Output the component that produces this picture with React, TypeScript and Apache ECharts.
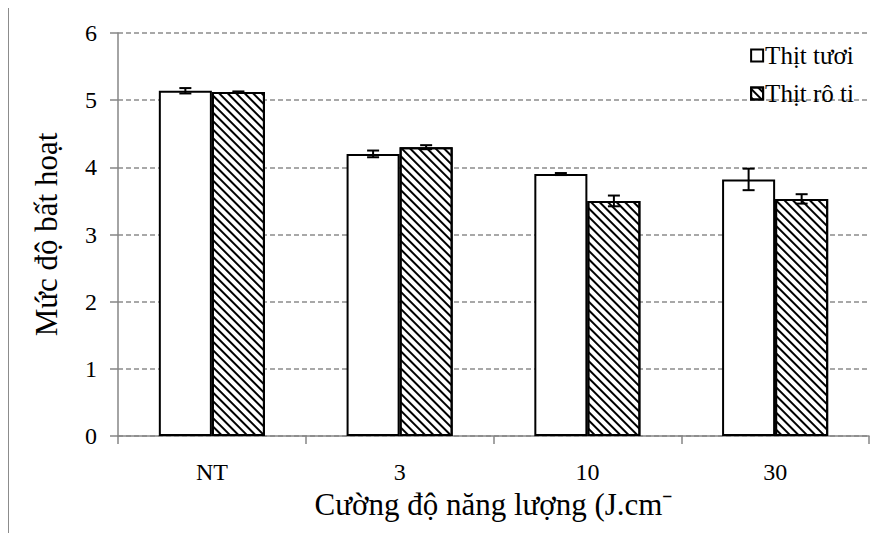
import React, { useEffect, useRef } from "react";
import * as echarts from "echarts";

const categories = ["NT", "3", "10", "30"];
const freshValues = [5.14, 4.2, 3.9, 3.82];
const freshErrors = [0.04, 0.05, 0.015, 0.16];
const roastValues = [5.12, 4.3, 3.5, 3.53];
const roastErrors = [0.01, 0.03, 0.08, 0.07];
const seriesNames = ["Thịt tươi", "Thịt rô ti"];
const yTicks = [0, 1, 2, 3, 4, 5, 6];

const FONT = "Liberation Serif";
const CAT_GAP = 0.435;

export default function App() {
  const ref = useRef<HTMLDivElement>(null);
  useEffect(() => {
    const chart = echarts.init(ref.current!, null, { renderer: "svg" });
    const errorSeries = (vals: number[], errs: number[], side: number) => ({
      type: "custom",
      silent: true,
      z: 10,
      data: vals.map((v, i) => [i, v, errs[i]]),
      renderItem: (params: any, api: any) => {
        const idx = api.value(0);
        const v = api.value(1);
        const e = api.value(2);
        const band = api.size([1, 0])[0];
        const bw = ((1 - CAT_GAP) * band) / 2;
        const c = api.coord([idx, v]);
        const x = c[0] + side * (bw / 2);
        const yTop = api.coord([idx, v + e])[1];
        const yBot = api.coord([idx, v - e])[1];
        const cap = 6;
        const style = { stroke: "#000", lineWidth: 2 };
        return {
          type: "group",
          children: [
            { type: "line", shape: { x1: x, y1: yTop, x2: x, y2: yBot }, style },
            { type: "line", shape: { x1: x - cap, y1: yTop, x2: x + cap, y2: yTop }, style },
            { type: "line", shape: { x1: x - cap, y1: yBot, x2: x + cap, y2: yBot }, style },
          ],
        };
      },
    });
    chart.setOption({
      animation: false,
      backgroundColor: "#fff",
      textStyle: { fontFamily: FONT },
      graphic: {
        elements: [
          {
            type: "rect",
            z: 100,
            shape: { x: 7, y: 5, width: 882, height: 2 },
            style: { fill: "#8c8c8c" },
          },
          {
            type: "rect",
            z: 100,
            shape: { x: 7, y: 5, width: 2, height: 536 },
            style: { fill: "#8c8c8c" },
          },
        ],
      },
      grid: { left: 118, right: 20, top: 33, bottom: 105, containLabel: false },
      legend: {
        orient: "vertical",
        right: 30,
        top: 38,
        itemWidth: 12,
        itemHeight: 12,
        itemGap: 13,
        icon: "rect",
        textStyle: { fontFamily: FONT, fontSize: 25, color: "#000", padding: [0, 0, 0, -3] },
        data: seriesNames,
      },
      xAxis: {
        type: "category",
        data: categories,
        name: "Cường độ năng lượng (J.cm⁻",
        nameLocation: "middle",
        nameGap: 50,
        nameTextStyle: { fontFamily: FONT, fontSize: 31, color: "#000" },
        axisLine: { lineStyle: { color: "#868686", width: 1.5 } },
        axisTick: { show: true, length: 8, lineStyle: { color: "#868686", width: 1.5 } },
        axisLabel: { fontFamily: FONT, fontSize: 24, color: "#000", margin: 24 },
      },
      yAxis: {
        type: "value",
        min: 0,
        max: 6,
        interval: 1,
        name: "Mức độ bất hoạt",
        nameLocation: "middle",
        nameGap: 56,
        nameTextStyle: { fontFamily: FONT, fontSize: 31, color: "#000" },
        axisLine: { show: true, lineStyle: { color: "#868686", width: 1.5 } },
        axisTick: { show: true, length: 8, lineStyle: { color: "#868686", width: 1.5 } },
        axisLabel: {
          fontFamily: FONT,
          fontSize: 24,
          color: "#000",
          margin: 21,
          formatter: (v: number) => (yTicks.includes(v) ? String(v) : ""),
        },
        splitLine: { show: true, lineStyle: { color: "#8c8c8c", type: [5, 3], width: 1.5 } },
      },
      series: [
        {
          name: seriesNames[0],
          type: "bar",
          data: freshValues,
          barGap: "0%",
          barCategoryGap: CAT_GAP * 100 + "%",
          itemStyle: { color: "#fff", borderColor: "#000", borderWidth: 2 },
        },
        {
          name: seriesNames[1],
          type: "bar",
          data: roastValues,
          barGap: "0%",
          barCategoryGap: CAT_GAP * 100 + "%",
          itemStyle: {
            color: "#fff",
            borderColor: "#000",
            borderWidth: 2,
            decal: {
              symbol: "rect",
              symbolSize: 1,
              color: "#000",
              backgroundColor: "#fff",
              dashArrayX: [1, 0],
              dashArrayY: [1.3, 3.2],
              rotation: Math.PI / 4,
            },
          },
        },
        errorSeries(freshValues, freshErrors, -1),
        errorSeries(roastValues, roastErrors, 1),
      ],
    });
    return () => chart.dispose();
  }, []);
  return <div ref={ref} style={{ width: 889, height: 541, margin: -8 }} />;
}
